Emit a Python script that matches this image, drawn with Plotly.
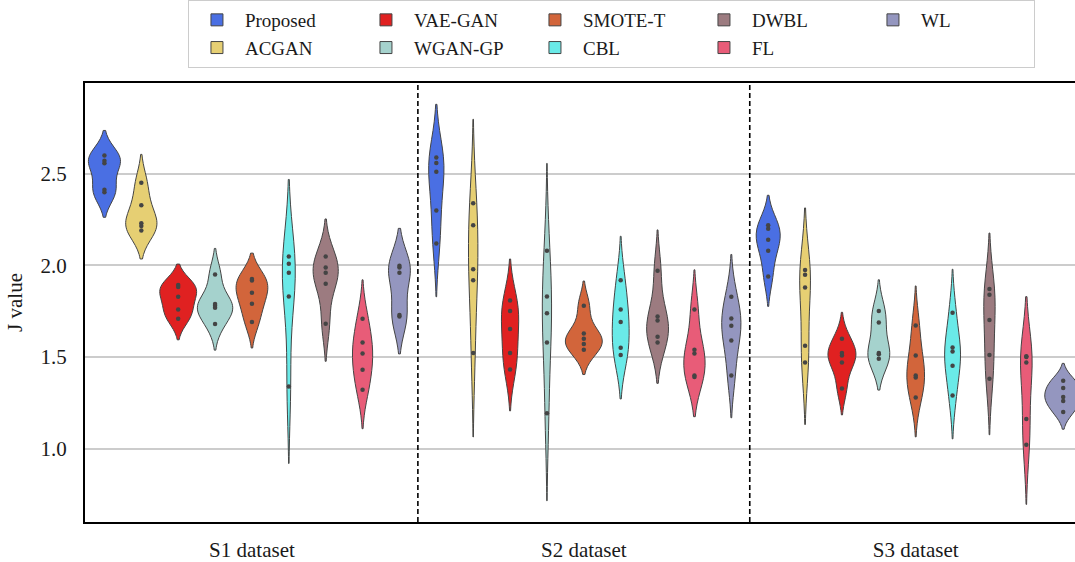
import numpy as np
import plotly.graph_objects as go

# Datasets on the x axis
datasets = ["S1 dataset", "S2 dataset", "S3 dataset"]

# J values per method, one list of runs per dataset (S1, S2, S3)
proposed = [[2.600, 2.572, 2.558, 2.413, 2.400],
            [2.589, 2.560, 2.511, 2.300, 2.120],
            [2.220, 2.200, 2.140, 2.080, 1.940]]
acgan = [[2.451, 2.329, 2.231, 2.216, 2.191],
         [2.340, 2.220, 1.980, 1.920, 1.522],
         [1.975, 1.949, 1.880, 1.562, 1.471]]
vae_gan = [[1.893, 1.882, 1.829, 1.760, 1.709],
           [1.809, 1.751, 1.653, 1.522, 1.433],
           [1.600, 1.522, 1.509, 1.471, 1.329]]
wgan_gp = [[1.951, 1.790, 1.780, 1.770, 1.680],
           [2.080, 1.831, 1.740, 1.580, 1.193],
           [1.751, 1.689, 1.522, 1.515, 1.491]]
smote_t = [[1.926, 1.918, 1.851, 1.791, 1.691],
           [1.780, 1.629, 1.600, 1.571, 1.540],
           [1.673, 1.509, 1.400, 1.389, 1.280]]
cbl = [[2.049, 2.009, 1.960, 1.831, 1.340],
       [1.920, 1.760, 1.691, 1.551, 1.511],
       [1.742, 1.553, 1.531, 1.453, 1.291]]
dwbl = [[2.049, 1.989, 1.960, 1.900, 1.682],
        [1.971, 1.722, 1.700, 1.611, 1.580],
        [1.871, 1.840, 1.702, 1.511, 1.382]]
fl = [[1.709, 1.580, 1.520, 1.431, 1.322],
      [1.760, 1.540, 1.520, 1.400, 1.391],
      [1.504, 1.500, 1.471, 1.162, 1.022]]
wl = [[1.998, 1.989, 1.960, 1.730, 1.722],
      [1.829, 1.711, 1.671, 1.591, 1.400],
      [1.371, 1.331, 1.282, 1.261, 1.201]]

methods = ["Proposed", "ACGAN", "VAE-GAN", "WGAN-GP", "SMOTE-T",
           "CBL", "DWBL", "FL", "WL"]
method_values = [proposed, acgan, vae_gan, wgan_gp, smote_t,
                 cbl, dwbl, fl, wl]
colors = ["#4A6FE3", "#E6CF73", "#E02121", "#A5D2CD", "#D2653B",
          "#6AEAE8", "#9C7B80", "#E85C78", "#9496BF"]

# Legend is laid out in 5 columns, filled top-to-bottom
n_cols = 5
legend_rank = [(i % 2) * n_cols + i // 2 for i in range(len(methods))]

SERIF = "Liberation Serif, Times New Roman, serif"
TXT = "#1a1a1a"

fig = go.Figure()
for m, (name, vals, col) in enumerate(zip(methods, method_values, colors)):
    for d, ds in enumerate(datasets):
        arr = np.asarray(vals[d], dtype=float)
        # Scott's rule bandwidth
        bw = arr.std(ddof=1) * len(arr) ** (-1 / 5)
        fig.add_trace(go.Violin(
            x=[ds] * len(arr), y=arr,
            name=name, legendgroup=name, showlegend=(d == 0),
            legendrank=legend_rank[m] + 1,
            offsetgroup=name, alignmentgroup="all",
            scalegroup=ds, scalemode="width",
            bandwidth=bw, spanmode="soft",
            fillcolor=col, opacity=1,
            line=dict(color="#444444", width=1),
            points="all", pointpos=0, jitter=0,
            marker=dict(color="#444444", size=4.5, line=dict(width=0)),
            box_visible=False, meanline_visible=False,
            hoveron="violins+points",
        ))

# Dashed separators between datasets
for xb in (0.5, 1.5):
    fig.add_shape(type="line", xref="x", yref="paper", x0=xb, x1=xb,
                  y0=0, y1=1, line=dict(color="black", width=1.6, dash="5px,3px"))

fig.update_layout(
    width=1075, height=562,
    margin=dict(l=85, r=0, t=83, b=40),
    paper_bgcolor="white", plot_bgcolor="white",
    violinmode="group", violingap=0, violingroupgap=0,
    font=dict(family=SERIF, size=21, color=TXT),
    legend=dict(
        orientation="h", x=0.104, xanchor="left", y=1.19, yanchor="top",
        font=dict(family=SERIF, size=19, color=TXT),
        bordercolor="#cccccc", borderwidth=1, bgcolor="white",
        itemwidth=46, entrywidth=108, entrywidthmode="pixels",
        traceorder="normal",
    ),
)
fig.update_xaxes(
    type="category", categoryorder="array", categoryarray=datasets,
    range=[-0.503, 2.48], showgrid=False, zeroline=False,
    showline=True, mirror=True, linecolor="black", linewidth=2,
    ticks="", ticklabelstandoff=8, automargin=False,
    tickfont=dict(family=SERIF, size=21, color=TXT),
)
fig.update_yaxes(
    range=[0.60, 2.996], tickvals=[1.0, 1.5, 2.0, 2.5],
    ticktext=["1.0", "1.5", "2.0", "2.5"],
    showgrid=True, gridcolor="#cccccc", gridwidth=1.5, zeroline=False,
    showline=True, linecolor="black", linewidth=2, mirror=False,
    ticks="", ticklabelstandoff=12,
    tickfont=dict(family=SERIF, size=21, color=TXT),
    title=dict(text="J value", font=dict(family=SERIF, size=21, color=TXT),
               standoff=12),
)

fig.write_html("out.html")
